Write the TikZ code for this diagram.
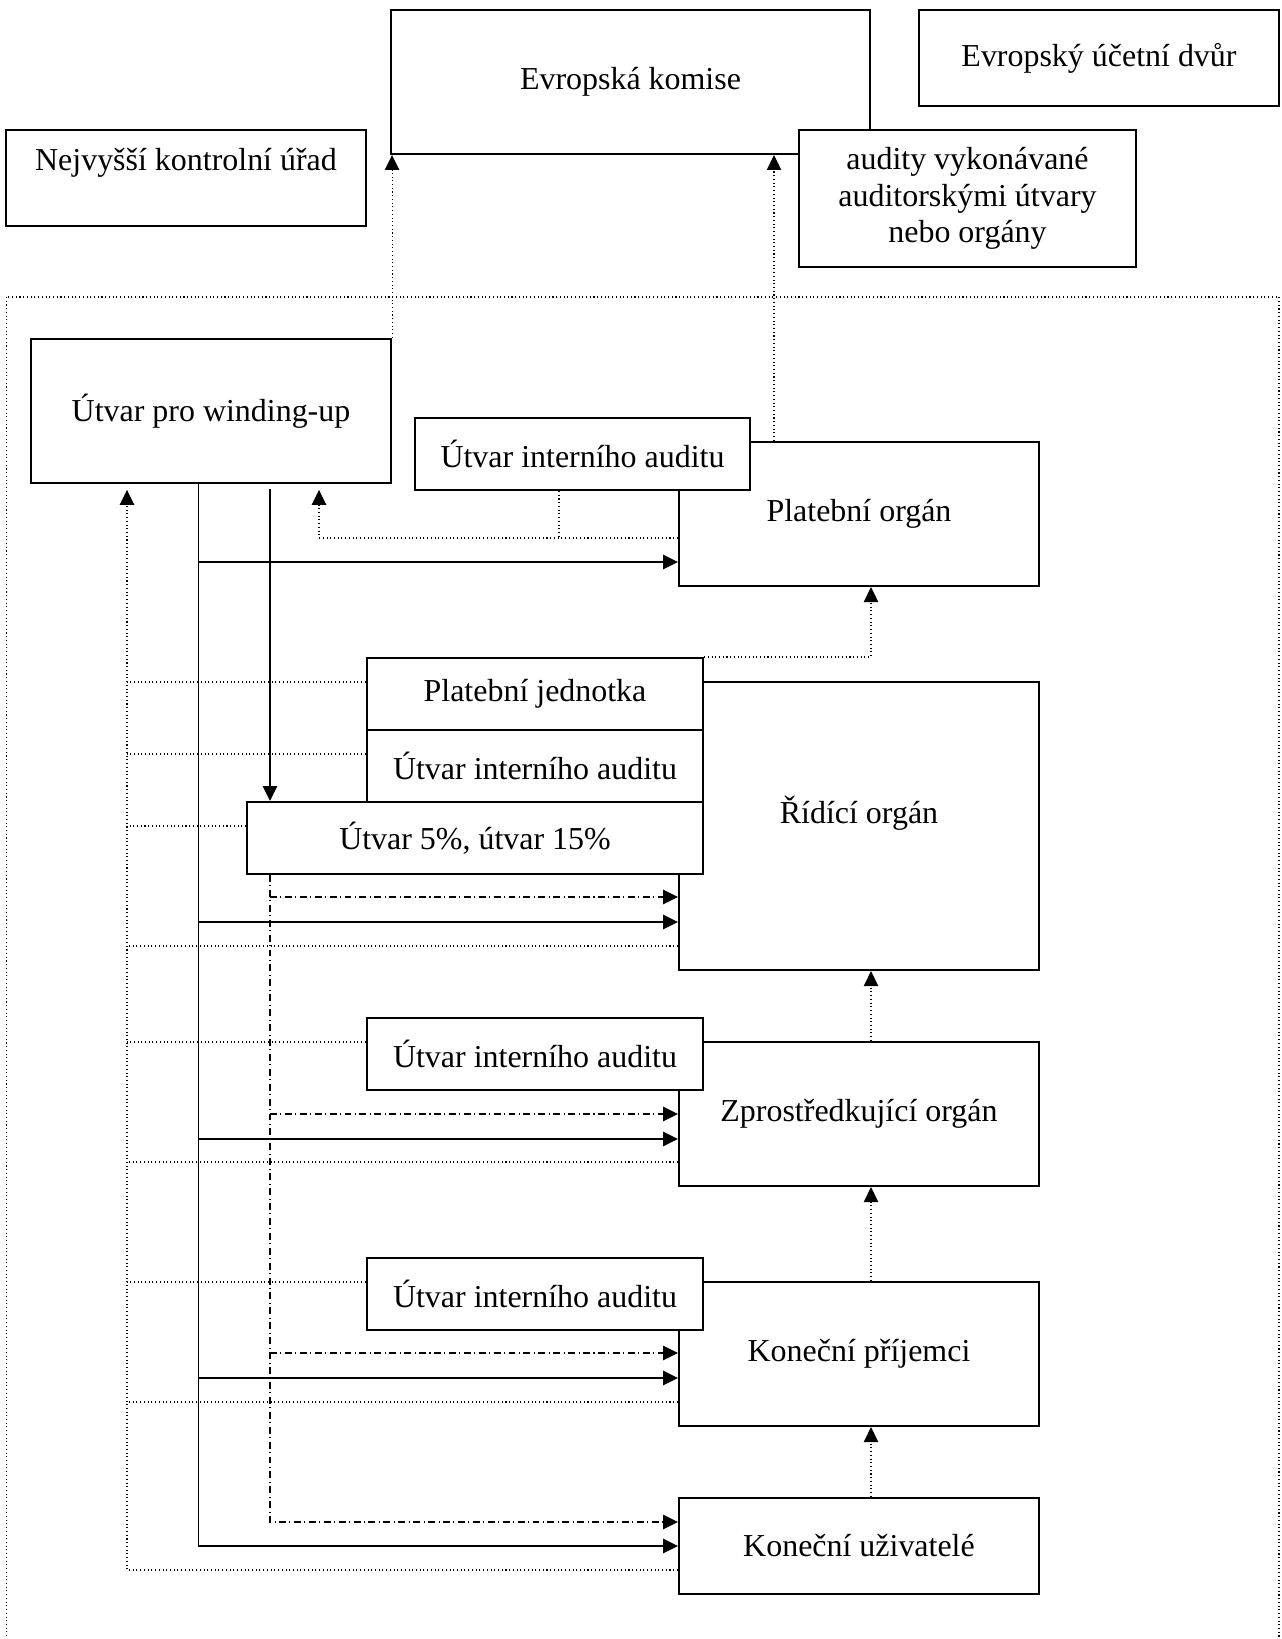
\documentclass[tikz,border=0pt]{standalone}
\usepackage{fontspec}
\setmainfont{Liberation Serif}
\usepackage{tikz}
\usetikzlibrary{arrows.meta}

\begin{document}
\begin{tikzpicture}[x=0.3756pt,y=-0.3756pt,
  >={Triangle[length=5.6pt,width=5.4pt]},
  box/.style={draw,line width=0.8pt,fill=white,inner sep=2pt,align=center,
    font=\fontsize{12}{13.7}\selectfont},
  organ/.style={box,minimum width=135.2pt,minimum height=54.1pt},
  unit/.style={box,minimum width=126.2pt,minimum height=27pt},
  flow/.style={line width=0.7pt,->},
  plan/.style={line width=0.5pt,dash pattern=on 2.6pt off 1.3pt on 0.4pt off 1.3pt,->},
  audit/.style={line width=0.4pt,densely dotted},
  report/.style={audit,->}]
\useasboundingbox (0,0) rectangle (1281,1639);

%Bus lines and corner points for the connectors
\coordinate (ab) at (127,0);    % dotted return line
\coordinate (sb) at (198.5,0);  % solid line
\coordinate (db) at (270,0);    % dash-dot line
\coordinate (pb) at (319,538);
\coordinate (rb) at (871,0);

% Frame of the member state
\draw[audit] (6.5,297) rectangle (1279,1650);

% Top level institutions
\node[box,minimum width=179.9pt,minimum height=54.1pt] (ek) at (630.5,82) {Evropská komise};
\node[box,minimum width=135.2pt,minimum height=36.1pt] (eud) at (1099,58) {Evropský účetní dvůr};
\node[box,minimum width=135pt,minimum height=36.1pt,text height=9pt,text depth=15pt] (nku) at (186,178) {Nejvyšší kontrolní úřad};
\node[box,minimum width=126.6pt,minimum height=51.5pt] (aud) at (967.5,198.5) {audity vykonávané\\auditorskými útvary\\nebo orgány};

% Organs
\node[organ] (wu) at (211,411) {Útvar pro winding-up};
\node[organ] (po) at (859,514) {Platební orgán};
\node[organ,minimum height=108.2pt,text height=9pt,text depth=11.2pt] (ro) at (859,826) {Řídící orgán};
\node[organ] (zo) at (859,1114) {Zprostředkující orgán};
\node[organ] (kp) at (859,1354) {Koneční příjemci};
\node[organ,minimum height=36.1pt] (ku) at (859,1546) {Koneční uživatelé};

% Units attached to the organs
\node[unit,minimum width=125.8pt] (iapo) at (582.5,454) {Útvar interního auditu};
\node[unit] (pj) at (535,694) {Platební jednotka};
\node[unit] (iaro) at (535,766) {Útvar interního auditu};
\node[unit,minimum width=171.1pt] (u5) at (475,838) {Útvar 5\%, útvar 15\%};
\node[unit] (iazo) at (535,1054) {Útvar interního auditu};
\node[unit] (iakp) at (535,1294) {Útvar interního auditu};

% Solid lines from the winding-up unit
\draw[flow] (wu.south -| sb) |- (ku.west);
\foreach \n/\y in {po/562,ro/922,zo/1139,kp/1378}
  \draw[flow] (sb |- 0,\y) -- (\n.west |- 0,\y);
\draw[flow] (db |- 0,489) -- (u5.north -| db);

% Dash-dot lines from the 5% and 15% unit
\draw[plan] (u5.south -| db) |- (ku.west |- 0,1522);
\foreach \n/\y in {ro/897,zo/1114,kp/1353}
  \draw[plan] (db |- 0,\y) -- (\n.west |- 0,\y);

% Dotted lines back to the winding-up unit
\draw[report,shorten >=2.2pt] (ku.west |- 0,1570) -| (wu.south -| ab);
\foreach \n/\y in {pj/682,iaro/754,u5/826,ro/946,iazo/1042,zo/1162,iakp/1282,kp/1402}
  \draw[audit] (\n.west |- 0,\y) -- (ab |- 0,\y);
\draw[report,shorten >=2.2pt] (po.west |- pb) -| (wu.south -| pb);
\draw[audit] (iapo.south -| 559,0) -- (559,538);

% Dotted lines up the chain
\draw[report] (pj.north east) -| (po.south -| rb);
\draw[report] (zo.north -| rb) -- (ro.south -| rb);
\draw[report] (kp.north -| rb) -- (zo.south -| rb);
\draw[report] (ku.north -| rb) -- (kp.south -| rb);
\draw[report] (wu.north east) -- (wu.north east |- ek.south);
\draw[report] (po.north -| 774,0) -- (ek.south -| 774,0);

\end{tikzpicture}
\end{document}
